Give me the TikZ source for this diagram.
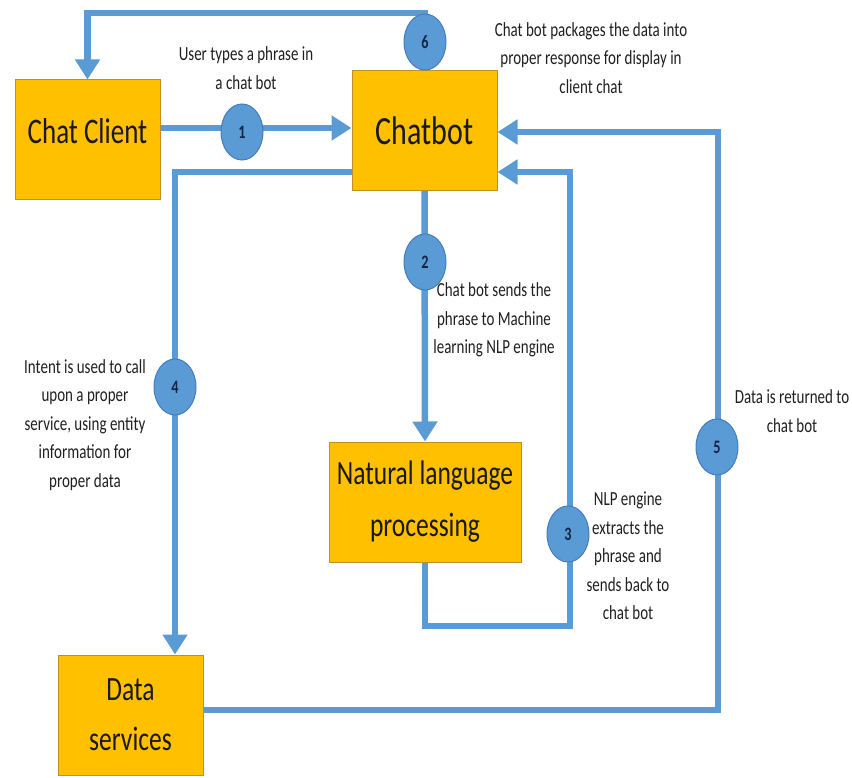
\documentclass[tikz,border=0pt]{standalone}
\usepackage{fontspec}
\setmainfont[FakeStretch=0.75]{Carlito}
\usetikzlibrary{arrows.meta,shapes.geometric}
\definecolor{boxgold}{RGB}{255,192,0}
\definecolor{boxedge}{RGB}{190,145,35}
\definecolor{flowblue}{RGB}{91,155,213}
\definecolor{numedge}{RGB}{70,125,185}
\definecolor{numink}{RGB}{20,35,70}

\begin{document}
\begin{tikzpicture}[x=1pt,y=-1pt,
	box/.style={draw=boxedge,line width=1pt,fill=boxgold,inner sep=0pt,align=center,text=black!90,minimum width=145pt,minimum height=120pt},
	flow/.style={draw=flowblue,line width=6.5pt,-{Triangle[length=20pt,width=24pt]}},
	num/.style={ellipse,draw=numedge,line width=1pt,fill=flowblue,minimum width=42pt,minimum height=56pt,inner sep=0pt,text=numink,font=\fontsize{19}{19}\selectfont\bfseries},
	note/.style={align=center,text=black!88,font=\fontsize{20}{28.5}\selectfont}]
	\useasboundingbox (0,0) rectangle (852,778);

	\node[box,font=\fontsize{36}{44}\selectfont,text height=22pt,text depth=14pt] (cc) at (87.5,140) {Chat Client};
	\node[box,font=\fontsize{40}{48}\selectfont] (cb) at (424.5,130.5) {Chatbot};
	\node[box,minimum width=192pt,font=\fontsize{34}{52}\selectfont] (nlp) at (425,502) {Natural language\\processing};
	\node[box,font=\fontsize{34}{50}\selectfont] (ds) at (130.5,715) {Data\\services};

	\draw[flow] (cc.east |- 0,128) -- (cb.west |- 0,128);
	\draw[flow] (cb.south) -- (nlp.north);
	\draw[flow] (nlp.south) -- (nlp.south |- 0,626) -| (570,172) -- (cb.east |- 0,172);
	\draw[flow] (cb.west |- 0,172) -| (ds.north -| 175,0);
	\draw[flow] (ds.east |- 0,710) -| (718,132) -- (cb.east |- 0,132);
	\draw[flow] (cb.north) -- (cb.north |- 0,13) -| (cc.north);

	\node[num] (n1) at (242,132) {1};
	\node[num] (n2) at (425,262) {2};
	\node[num] (n3) at (568,534) {3};
	\node[num] (n4) at (175,387) {4};
	\node[num] (n5) at (717,447) {5};
	\node[num] (n6) at (425,42) {6};

	\node[note] (l1) at (246,68) {User types a phrase in\\a chat bot};
	\node[note] (l2) at (494,320) {Chat bot sends the\\phrase to Machine\\learning NLP engine};
	\node[note] (l3) at (628,556) {NLP engine\\extracts the\\phrase and\\sends back to\\chat bot};
	\node[note] (l4) at (85,425) {Intent is used to call\\upon a proper\\service, using entity\\information for\\proper data};
	\node[note] (l5) at (792,411) {Data is returned to\\chat bot};
	\node[note] (l6) at (591,58) {Chat bot packages the data into\\proper response for display in\\client chat};
\end{tikzpicture}
\end{document}
